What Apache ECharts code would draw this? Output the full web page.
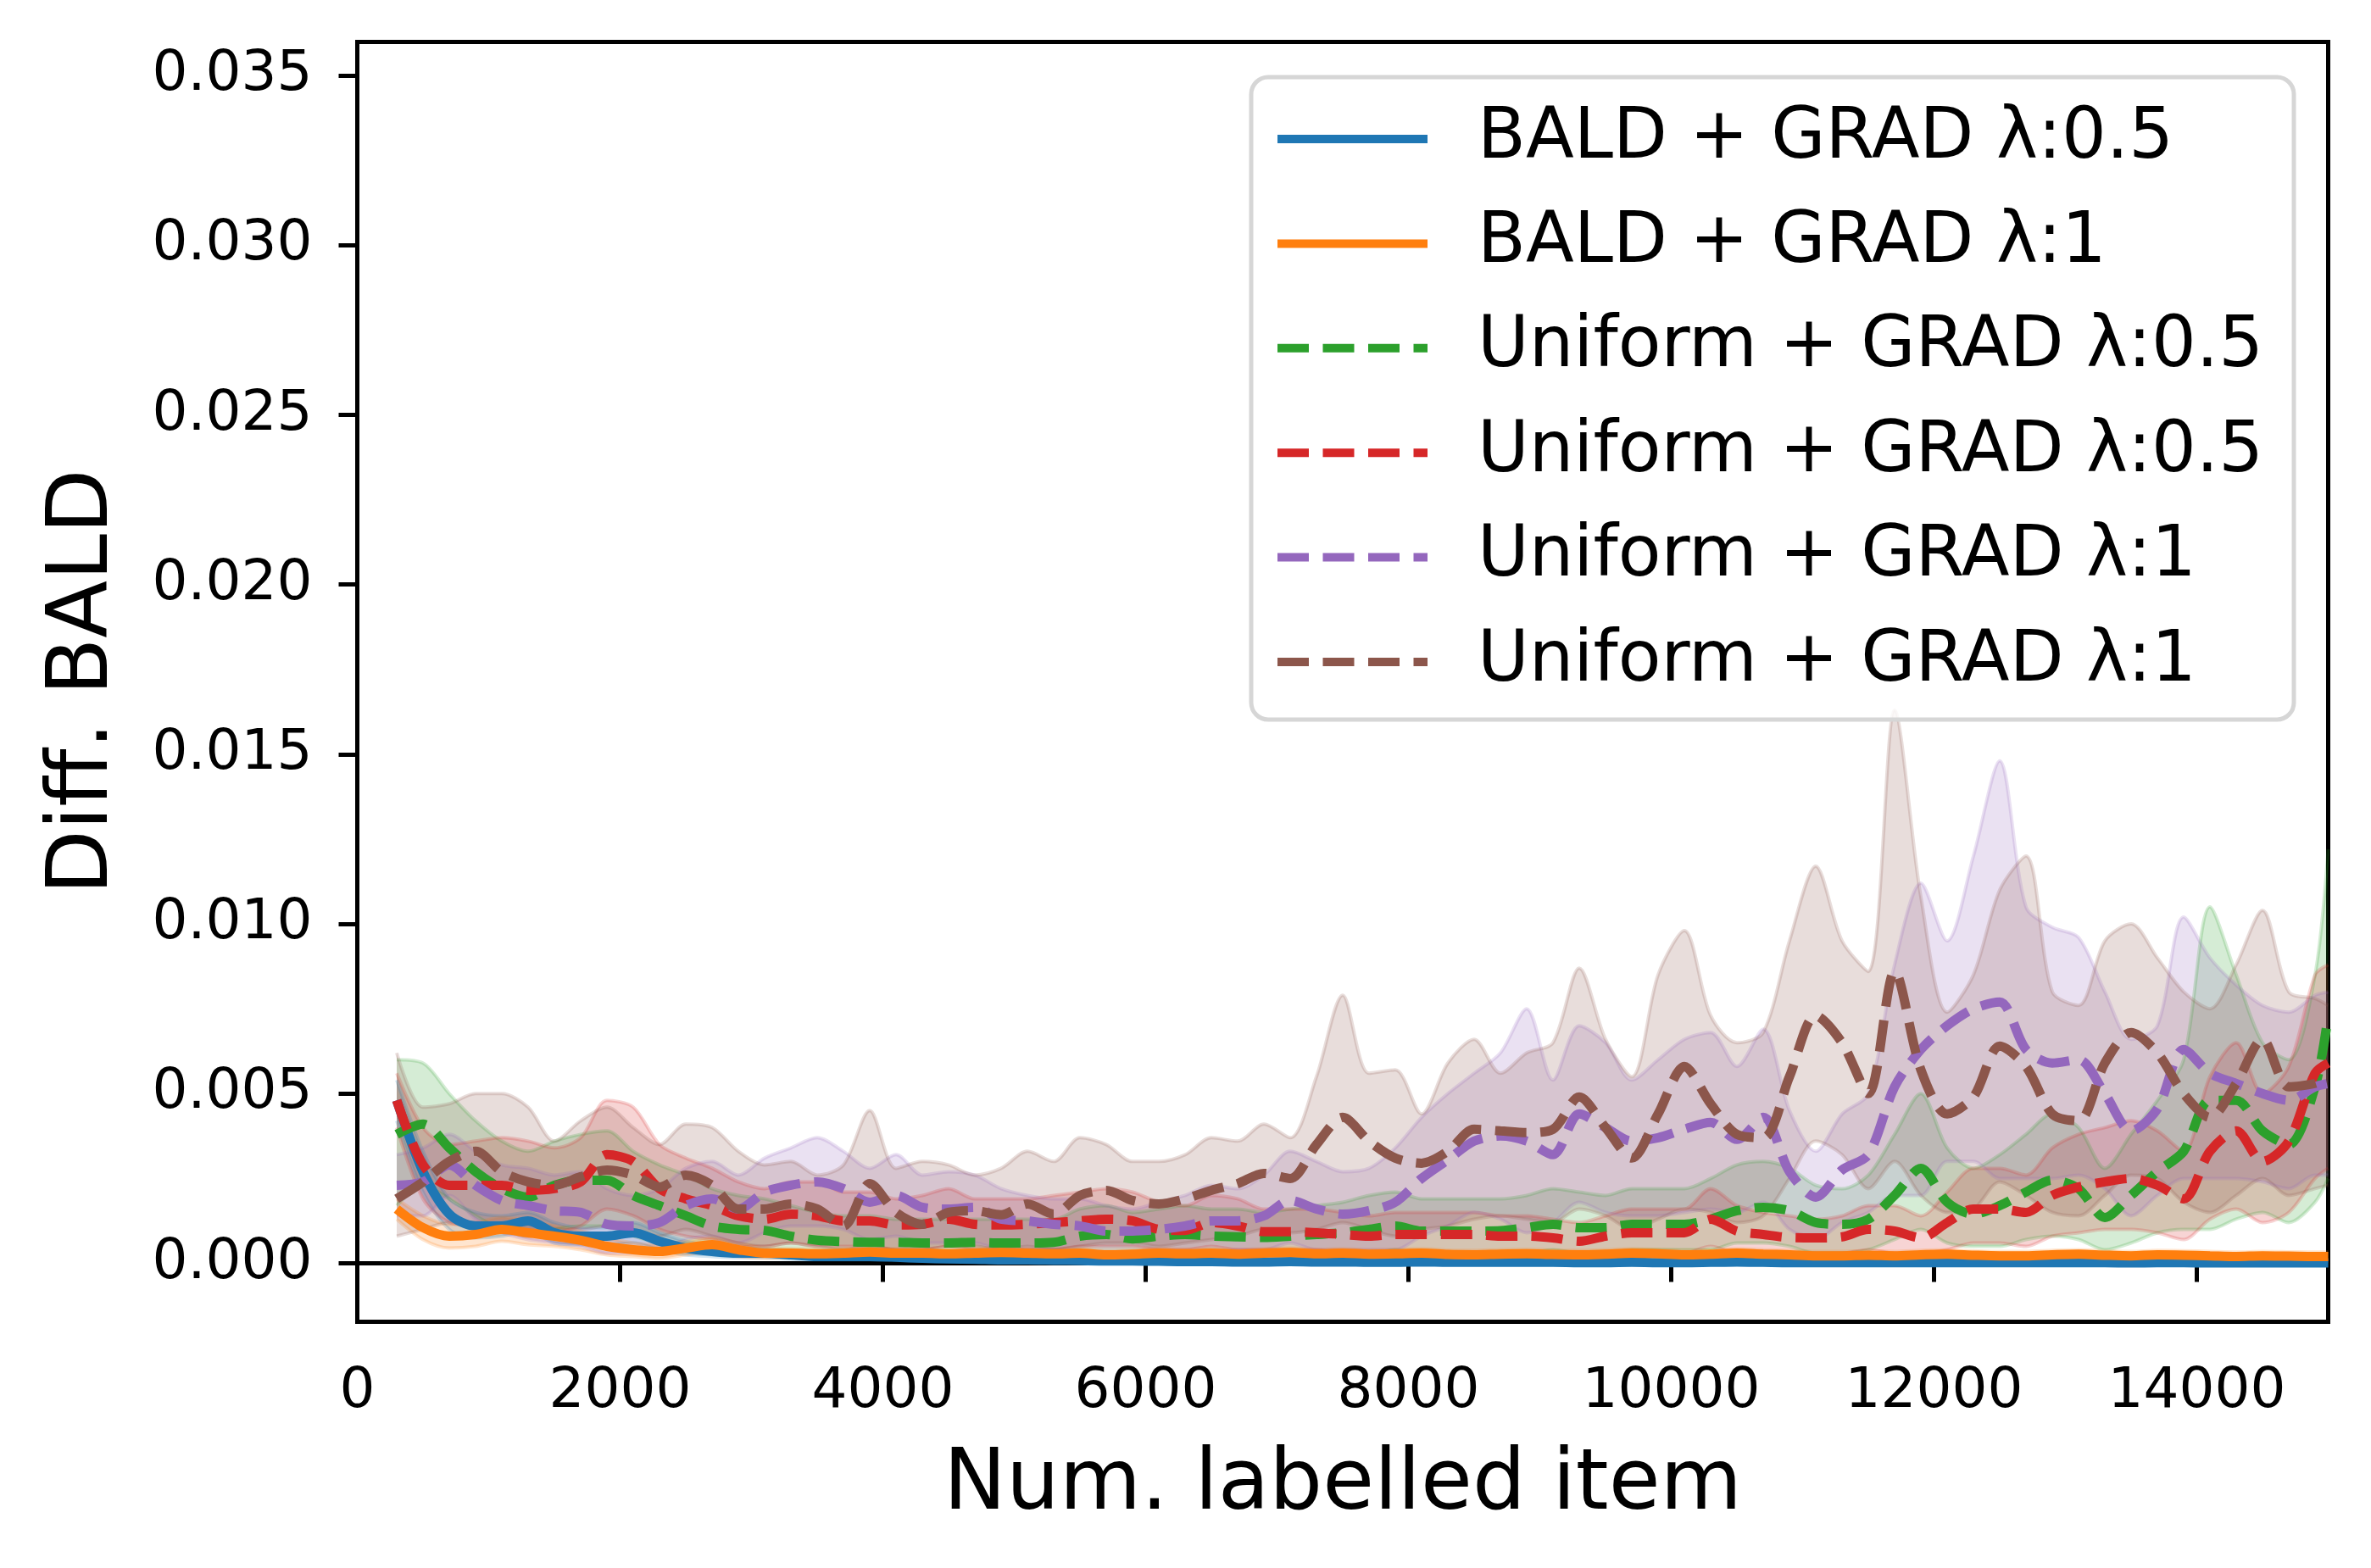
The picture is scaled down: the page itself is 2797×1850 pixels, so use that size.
<!DOCTYPE html>
<html>
<head>
<meta charset="utf-8">
<title>Diff. BALD</title>
<script src="https://cdn.jsdelivr.net/npm/echarts@6/dist/echarts.min.js"></script>
<style>
  html, body { margin: 0; padding: 0; background: #fff; }
  #chart { width: 2797px; height: 1850px; }
</style>
</head>
<body>
<div id="chart"></div>
<script>
// x: number of labelled items
const labelled = [
  300, 500, 700, 900, 1100, 1300, 1500, 1700, 1900, 2100,
  2300, 2500, 2700, 2900, 3100, 3300, 3500, 3700, 3900, 4100,
  4300, 4500, 4700, 4900, 5100, 5300, 5500, 5700, 5900, 6100,
  6300, 6500, 6700, 6900, 7100, 7300, 7500, 7700, 7900, 8100,
  8300, 8500, 8700, 8900, 9100, 9300, 9500, 9700, 9900, 10100,
  10300, 10500, 10700, 10900, 11100, 11300, 11500, 11700, 11900, 12100,
  12300, 12500, 12700, 12900, 13100, 13300, 13500, 13700, 13900, 14100,
  14300, 14500, 14700, 14900, 15000
]

const xTicks = [0, 2000, 4000, 6000, 8000, 10000, 12000, 14000]
const xTickLabels = ['0', '2000', '4000', '6000', '8000', '10000', '12000', '14000']
const yTicks = [0, 0.005, 0.01, 0.015, 0.02, 0.025, 0.03, 0.035]
const yTickLabels = ['0.000', '0.005', '0.010', '0.015', '0.020', '0.025', '0.030', '0.035']

const seriesKeys = ['bald05', 'bald1', 'uni05a', 'uni05b', 'uni1a', 'uni1b']
const seriesLabels = [
  'BALD + GRAD λ:0.5', 'BALD + GRAD λ:1',
  'Uniform + GRAD λ:0.5', 'Uniform + GRAD λ:0.5',
  'Uniform + GRAD λ:1', 'Uniform + GRAD λ:1'
]
const lineColors = ['#1f77b4', '#ff7f0e', '#2ca02c', '#d62728', '#9467bd', '#8c564b']
const dashed = [false, false, true, true, true, true]

// BALD + GRAD λ:0.5
const meanBald05 = [
  0.0048, 0.0027, 0.00145, 0.0011, 0.0011, 0.00125, 0.0009, 0.0008, 0.0008, 0.0009,
  0.00065, 0.00045, 0.00035, 0.0003, 0.0003, 0.00025, 0.0002, 0.0002, 0.0002, 0.00018,
  0.00015, 0.00013, 0.00012, 0.0001, 0.0001, 0.00009, 0.00008, 0.00007, 0.00007, 0.00006,
  0.00005, 0.00005, 0.00004, 0.00004, 0.00005, 0.00004, 0.00004, 0.00003, 0.00003, 0.00004,
  0.00003, 0.00003, 0.00003, 0.00003, 0.00003, 0.00002, 0.00002, 0.00003, 0.00002, 0.00002,
  0.00003, 0.00004, 0.00003, 0.00002, 0.00002, 0.00002, 0.00002, 0.00002, 0.00002, 0.00002,
  0.00002, 0.00002, 0.00002, 0.00002, 0.00002, 0.00002, 0.00001, 0.00002, 0.00002, 0.00001,
  0.00001, 0.00001, 0.00001, 0.00001, 0.00001
]
const hiBald05 = [
  0.0054, 0.0033, 0.0019, 0.0015, 0.0014, 0.0015, 0.0012, 0.00105, 0.00105, 0.0012,
  0.0009, 0.00065, 0.0005, 0.00045, 0.00042, 0.00038, 0.00032, 0.0003, 0.0003, 0.00028,
  0.00024, 0.00022, 0.0002, 0.00018, 0.00017, 0.00016, 0.00015, 0.00014, 0.00013, 0.00012,
  0.00011, 0.00011, 0.0001, 0.0001, 0.00011, 0.0001, 0.0001, 0.00009, 0.00009, 0.0001,
  0.00009, 0.00009, 0.00008, 0.00009, 0.00009, 0.00008, 0.00008, 0.00009, 0.00008, 0.00008,
  0.00009, 0.0001, 0.00009, 0.00008, 0.00008, 0.00008, 0.00007, 0.00008, 0.00008, 0.00007,
  0.00007, 0.00007, 0.00008, 0.00007, 0.00007, 0.00007, 0.00006, 0.00007, 0.00007, 0.00006,
  0.00006, 0.00006, 0.00006, 0.00006, 0.00006
]
const loBald05 = [
  0.0042, 0.0021, 0.001, 0.00075, 0.0008, 0.00095, 0.0006, 0.00055, 0.00055, 0.0006,
  0.0004, 0.00025, 0.0002, 0.00016, 0.00016, 0.00012, 0.0001, 0.0001, 0.0001, 0.00008,
  0.00006, 0.00005, 0.00004, 0.00003, 0.00003, 0.00003, 0.00002, 0.00002, 0.00002, 0.00002,
  0.00001, 0.00001, 0.00001, 0.00001, 0.00001, 0.00001, 0.00001, 0.00001, 0.00001, 0.00001,
  0, 0, 0, 0, 0, 0, 0, 0, 0, 0,
  0, 0, 0, 0, 0, 0, 0, 0, 0, 0,
  0, 0, 0, 0, 0, 0, 0, 0, 0, 0,
  0, 0, 0, 0, 0
]

// BALD + GRAD λ:1
const meanBald1 = [
  0.0016, 0.00105, 0.0008, 0.00085, 0.001, 0.0009, 0.0008, 0.00068, 0.0005, 0.0004,
  0.00035, 0.00045, 0.00055, 0.0004, 0.0003, 0.0003, 0.00028, 0.0003, 0.00033, 0.0003,
  0.0003, 0.00028, 0.0003, 0.00032, 0.0003, 0.00028, 0.0003, 0.00025, 0.00027, 0.0003,
  0.00028, 0.0003, 0.00027, 0.0003, 0.00032, 0.00028, 0.0003, 0.00027, 0.00028, 0.0003,
  0.00026, 0.00025, 0.00027, 0.00028, 0.00026, 0.00025, 0.00027, 0.0003, 0.00028, 0.00025,
  0.00027, 0.0003, 0.00027, 0.00025, 0.00022, 0.00022, 0.00024, 0.00022, 0.00025, 0.00027,
  0.00024, 0.00022, 0.00022, 0.00025, 0.00027, 0.00024, 0.00022, 0.00025, 0.00024, 0.00022,
  0.0002, 0.00022, 0.00021, 0.0002, 0.0002
]
const hiBald1 = [
  0.0019, 0.0014, 0.00115, 0.0012, 0.00135, 0.00125, 0.0011, 0.00095, 0.00075, 0.0006,
  0.00055, 0.00065, 0.00075, 0.0006, 0.00045, 0.00044, 0.00041, 0.00043, 0.00046, 0.00043,
  0.00043, 0.00041, 0.00043, 0.00045, 0.00043, 0.00041, 0.00043, 0.00038, 0.0004, 0.00043,
  0.00041, 0.00043, 0.0004, 0.00043, 0.00045, 0.00041, 0.00043, 0.0004, 0.00041, 0.00043,
  0.00039, 0.00038, 0.0004, 0.00041, 0.00039, 0.00038, 0.0004, 0.00043, 0.00041, 0.00038,
  0.0004, 0.00043, 0.0004, 0.00038, 0.00035, 0.00035, 0.00037, 0.00035, 0.00038, 0.0004,
  0.00037, 0.00035, 0.00035, 0.00038, 0.0004, 0.00037, 0.00035, 0.00038, 0.00037, 0.00035,
  0.00033, 0.00035, 0.00034, 0.00033, 0.00033
]
const loBald1 = [
  0.0013, 0.0007, 0.00045, 0.0005, 0.00065, 0.00055, 0.0005, 0.0004, 0.00025, 0.0002,
  0.00015, 0.00025, 0.00035, 0.0002, 0.00015, 0.00017, 0.00016, 0.00018, 0.00021, 0.00018,
  0.00018, 0.00016, 0.00018, 0.0002, 0.00018, 0.00016, 0.00018, 0.00013, 0.00015, 0.00018,
  0.00016, 0.00018, 0.00015, 0.00018, 0.0002, 0.00016, 0.00018, 0.00015, 0.00016, 0.00018,
  0.00014, 0.00013, 0.00015, 0.00016, 0.00014, 0.00013, 0.00015, 0.00018, 0.00016, 0.00013,
  0.00015, 0.00018, 0.00015, 0.00013, 0.0001, 0.0001, 0.00012, 0.0001, 0.00013, 0.00015,
  0.00012, 0.0001, 0.0001, 0.00013, 0.00015, 0.00012, 0.0001, 0.00013, 0.00012, 0.0001,
  0.00008, 0.0001, 0.00009, 0.00008, 0.00008
]

// Uniform + GRAD λ:0.5 (green)
const meanUni05a = [
  0.0038, 0.0041, 0.0034, 0.0027, 0.0022, 0.00195, 0.0023, 0.00245, 0.00245, 0.002,
  0.0017, 0.0014, 0.0011, 0.001, 0.00097, 0.0008, 0.00068, 0.00064, 0.00062, 0.00062,
  0.0006, 0.0006, 0.00062, 0.0006, 0.0006, 0.00062, 0.0008, 0.00085, 0.00072, 0.0008,
  0.00085, 0.0008, 0.00078, 0.00076, 0.0008, 0.00085, 0.0009, 0.001, 0.0011, 0.00095,
  0.00095, 0.00095, 0.00096, 0.00105, 0.00115, 0.00105, 0.00105, 0.00115, 0.00115, 0.00115,
  0.0013, 0.00155, 0.00165, 0.00155, 0.0012, 0.00115, 0.0013, 0.002, 0.0028, 0.0018,
  0.00145, 0.0017, 0.0021, 0.00245, 0.0022, 0.00135, 0.002, 0.0027, 0.0033, 0.0048,
  0.0048, 0.0039, 0.0035, 0.0052, 0.0073
]
const hiUni05a = [
  0.006, 0.0059, 0.005, 0.0042, 0.0036, 0.0033, 0.0036, 0.0038, 0.0039, 0.0033,
  0.0029, 0.0026, 0.0022, 0.002, 0.0019, 0.0017, 0.0015, 0.0014, 0.0014, 0.0013,
  0.0013, 0.0013, 0.0013, 0.0013, 0.0013, 0.0013, 0.0016, 0.0017, 0.0015, 0.0016,
  0.0017, 0.0016, 0.0016, 0.0015, 0.0016, 0.0017, 0.0018, 0.002, 0.0021, 0.0019,
  0.0019, 0.0019, 0.0019, 0.002, 0.0022, 0.0021, 0.002, 0.0022, 0.0022, 0.0022,
  0.0025, 0.0029, 0.003, 0.0028, 0.0023, 0.0022, 0.0026, 0.0038, 0.005, 0.0034,
  0.0028, 0.0032, 0.0038, 0.0044, 0.004, 0.0028, 0.0038, 0.0048, 0.006, 0.0105,
  0.0085, 0.0065, 0.006, 0.0085, 0.0122
]
const loUni05a = [
  0.0017, 0.0023, 0.0019, 0.0014, 0.001, 0.0008, 0.001, 0.0011, 0.0011, 0.0008,
  0.0006, 0.0005, 0.0003, 0.0003, 0.0003, 0.0002, 0.0002, 0.0002, 0.0002, 0.0002,
  0.0002, 0.0002, 0.0002, 0.0002, 0.0002, 0.0002, 0.0003, 0.0003, 0.0002, 0.0003,
  0.0003, 0.0003, 0.0003, 0.0003, 0.0003, 0.0003, 0.0003, 0.0003, 0.0004, 0.0003,
  0.0003, 0.0003, 0.0003, 0.0003, 0.0004, 0.0003, 0.0003, 0.0004, 0.0004, 0.0004,
  0.0004, 0.0006, 0.0006, 0.0005, 0.0003, 0.0003, 0.0004, 0.0007, 0.001, 0.0006,
  0.0005, 0.0005, 0.0007, 0.0008, 0.0007, 0.0004, 0.0006, 0.0009, 0.001, 0.001,
  0.0013, 0.0015, 0.0012, 0.0018, 0.0025
]

// Uniform + GRAD λ:0.5 (red)
const meanUni05b = [
  0.0048, 0.0029, 0.0023, 0.0023, 0.0023, 0.00215, 0.0022, 0.0024, 0.0032, 0.003,
  0.0022, 0.0019, 0.0017, 0.0014, 0.0013, 0.00145, 0.0014, 0.00125, 0.00125, 0.00113,
  0.00115, 0.0013, 0.00115, 0.00113, 0.00115, 0.0012, 0.00125, 0.0013, 0.00125, 0.001,
  0.00097, 0.0012, 0.0011, 0.00093, 0.00093, 0.0009, 0.00085, 0.0008, 0.00085, 0.00085,
  0.00085, 0.00085, 0.0008, 0.0008, 0.00075, 0.00065, 0.0008, 0.0009, 0.0009, 0.0009,
  0.0013, 0.00095, 0.00085, 0.00076, 0.00075, 0.00078, 0.001, 0.00095, 0.00075, 0.0012,
  0.0016, 0.0016, 0.0015, 0.002, 0.00225, 0.0024, 0.0025, 0.0023, 0.0019, 0.0033,
  0.0039, 0.003, 0.0036, 0.0056, 0.0059
]
const hiUni05b = [
  0.0056, 0.004, 0.0035, 0.0036, 0.0037, 0.0036, 0.0034, 0.0037, 0.0048, 0.0046,
  0.0035, 0.0031, 0.0028, 0.0024, 0.0022, 0.0024, 0.0024, 0.0021, 0.0021, 0.0019,
  0.002, 0.0022, 0.0019, 0.0019, 0.0019, 0.002, 0.0021, 0.0022, 0.0021, 0.0018,
  0.0017, 0.002, 0.0019, 0.0016, 0.0016, 0.0016, 0.0015, 0.0014, 0.0015, 0.0015,
  0.0015, 0.0015, 0.0014, 0.0014, 0.0013, 0.0012, 0.0014, 0.0016, 0.0016, 0.0016,
  0.0022, 0.0017, 0.0015, 0.0014, 0.0013, 0.0014, 0.0017, 0.0017, 0.0014, 0.0021,
  0.0028, 0.0028, 0.0026, 0.0034, 0.0038, 0.004, 0.0042, 0.0039, 0.0033, 0.0055,
  0.0065, 0.005, 0.0058, 0.0085, 0.0088
]
const loUni05b = [
  0.004, 0.0019, 0.0012, 0.0011, 0.001, 0.0008, 0.0009, 0.0011, 0.0016, 0.0014,
  0.001, 0.0008, 0.0007, 0.0005, 0.0005, 0.0006, 0.0005, 0.0005, 0.0005, 0.0004,
  0.0004, 0.0005, 0.0004, 0.0004, 0.0004, 0.0004, 0.0005, 0.0005, 0.0005, 0.0004,
  0.0004, 0.0005, 0.0004, 0.0004, 0.0004, 0.0004, 0.0003, 0.0003, 0.0003, 0.0003,
  0.0003, 0.0003, 0.0003, 0.0003, 0.0003, 0.0002, 0.0003, 0.0003, 0.0003, 0.0003,
  0.0005, 0.0003, 0.0003, 0.0003, 0.0003, 0.0003, 0.0004, 0.0003, 0.0003, 0.0004,
  0.0006, 0.0006, 0.0005, 0.0008, 0.0009, 0.001, 0.001, 0.0009, 0.0007, 0.0013,
  0.0016, 0.0012, 0.0015, 0.0025, 0.0028
]

// Uniform + GRAD λ:1 (purple)
const meanUni1a = [
  0.0023, 0.0024, 0.0029, 0.0023, 0.00185, 0.0017, 0.00155, 0.0015, 0.00115, 0.0011,
  0.0012, 0.0017, 0.0019, 0.0016, 0.0021, 0.0023, 0.0024, 0.0022, 0.0018, 0.002,
  0.00165, 0.0016, 0.00165, 0.0013, 0.00125, 0.00115, 0.0011, 0.00095, 0.00095, 0.001,
  0.0011, 0.00125, 0.00125, 0.0014, 0.00185, 0.0016, 0.00145, 0.00155, 0.0018, 0.0025,
  0.00305, 0.0036, 0.00375, 0.0036, 0.0032, 0.0044, 0.004, 0.0036, 0.0037, 0.00395,
  0.00415, 0.00365, 0.0043, 0.0027, 0.00195, 0.00275, 0.0032, 0.0052, 0.0063, 0.007,
  0.0075, 0.0077, 0.0063, 0.0059, 0.006, 0.005, 0.0039, 0.00455, 0.0063, 0.0056,
  0.0053, 0.005, 0.0048, 0.0052, 0.0053
]
const hiUni1a = [
  0.0032, 0.0034, 0.0038, 0.0033, 0.0029, 0.0028, 0.0026, 0.0027, 0.0022, 0.002,
  0.0022, 0.0028, 0.003, 0.0026, 0.0031, 0.0034, 0.0037, 0.0033, 0.0028, 0.0032,
  0.0026, 0.0027, 0.0026, 0.0022, 0.002, 0.0019, 0.0019, 0.0017, 0.0016, 0.0018,
  0.002, 0.0023, 0.0022, 0.0026, 0.0033, 0.003, 0.0027, 0.0028, 0.0034, 0.0043,
  0.005, 0.0056, 0.0062, 0.0075, 0.0054, 0.007, 0.0065, 0.0054, 0.006, 0.0066,
  0.0068, 0.0058, 0.0069, 0.0045, 0.0033, 0.0044, 0.005, 0.0088, 0.0112, 0.0095,
  0.012, 0.0148, 0.0105, 0.0099, 0.0096, 0.008, 0.0066, 0.007, 0.0102, 0.009,
  0.0082, 0.0076, 0.0074, 0.0079, 0.008
]
const loUni1a = [
  0.0014, 0.0014, 0.002, 0.0013, 0.0009, 0.0007, 0.0006, 0.0005, 0.0003, 0.0003,
  0.0004, 0.0007, 0.0008, 0.0006, 0.0009, 0.0011, 0.0011, 0.001, 0.0007, 0.0008,
  0.0006, 0.0006, 0.0006, 0.0004, 0.0004, 0.0004, 0.0003, 0.0002, 0.0003, 0.0003,
  0.0003, 0.0003, 0.0004, 0.0004, 0.0006, 0.0004, 0.0004, 0.0004, 0.0004, 0.0008,
  0.0011, 0.0015, 0.0013, 0.0009, 0.0012, 0.0018, 0.0015, 0.0014, 0.0014, 0.0015,
  0.0016, 0.0015, 0.0018, 0.001, 0.0007, 0.0012, 0.0015, 0.002, 0.002, 0.003,
  0.003, 0.0025, 0.0025, 0.0025, 0.0026, 0.0022, 0.0014, 0.002, 0.0025, 0.0025,
  0.0025, 0.0024, 0.0022, 0.0026, 0.0026
]

// Uniform + GRAD λ:1 (brown)
const meanUni1b = [
  0.0019, 0.0024, 0.003, 0.0033, 0.0027, 0.0024, 0.0023, 0.00255, 0.00275, 0.0026,
  0.00225, 0.0026, 0.0023, 0.0016, 0.0016, 0.00175, 0.0016, 0.0011, 0.00235, 0.0015,
  0.00115, 0.0015, 0.00155, 0.00143, 0.00175, 0.00145, 0.002, 0.00215, 0.00185, 0.00175,
  0.0019, 0.00215, 0.00235, 0.00265, 0.0025, 0.0035, 0.0043, 0.0036, 0.0031, 0.00295,
  0.0033, 0.00395, 0.0039, 0.00385, 0.00395, 0.0049, 0.004, 0.0031, 0.0044, 0.0058,
  0.0047, 0.0038, 0.0037, 0.0055, 0.0073, 0.0065, 0.005, 0.0086, 0.0057, 0.0044,
  0.0049, 0.0064, 0.0058, 0.0044, 0.0042, 0.0059, 0.0068, 0.0062, 0.005, 0.0043,
  0.0053, 0.0066, 0.0052, 0.0053, 0.0055
]
const hiUni1b = [
  0.0062, 0.0046, 0.0047, 0.005, 0.005, 0.0046, 0.0036, 0.0042, 0.0046, 0.004,
  0.0035, 0.0041, 0.004, 0.0033, 0.0029, 0.003, 0.0026, 0.0029, 0.0045, 0.0028,
  0.003, 0.0029, 0.0026, 0.0028, 0.0033, 0.003, 0.0037, 0.0035, 0.003, 0.003,
  0.0032, 0.0037, 0.0036, 0.0041, 0.0037, 0.0055, 0.0079, 0.0056, 0.0057, 0.0044,
  0.0059, 0.0066, 0.0056, 0.0062, 0.0065, 0.0087, 0.0066, 0.0055, 0.0085, 0.0098,
  0.0073, 0.0065, 0.0068, 0.0095, 0.0117, 0.0095, 0.0086, 0.0163, 0.0108, 0.0074,
  0.0085, 0.011, 0.012, 0.008, 0.0076, 0.0095, 0.01, 0.009, 0.008, 0.0075,
  0.0088, 0.0104, 0.008, 0.0078, 0.0076
]
const loUni1b = [
  0.0008, 0.001, 0.0012, 0.0012, 0.001, 0.0009, 0.001, 0.001, 0.0011, 0.001,
  0.0008, 0.001, 0.0008, 0.0006, 0.0005, 0.0006, 0.0005, 0.0004, 0.0005, 0.0004,
  0.0004, 0.0005, 0.0005, 0.0004, 0.0005, 0.0004, 0.0005, 0.0006, 0.0006, 0.0005,
  0.0006, 0.0007, 0.0008, 0.001, 0.0009, 0.001, 0.0012, 0.001, 0.0008, 0.001,
  0.0011, 0.0013, 0.0014, 0.0013, 0.0012, 0.0016, 0.0014, 0.001, 0.0013, 0.0016,
  0.0015, 0.0012, 0.0014, 0.0025, 0.0036, 0.0032, 0.0022, 0.003, 0.002, 0.0015,
  0.0016, 0.0024, 0.002, 0.0015, 0.0014, 0.002, 0.0026, 0.0025, 0.0018, 0.0015,
  0.002, 0.0025, 0.002, 0.0022, 0.0023
]

const means = [meanBald05, meanBald1, meanUni05a, meanUni05b, meanUni1a, meanUni1b]
const highs = [hiBald05, hiBald1, hiUni05a, hiUni05b, hiUni1a, hiUni1b]
const lows = [loBald05, loBald1, loUni05a, loUni05b, loUni1a, loUni1b]

const FONT = 'DejaVu Sans'
const SMOOTH = 0.3
const LINE_W = 11

const toPairs = ys => labelled.map((x, i) => [x, ys[i]])

const series = []
// shaded bands first, lines on top.
// band rows are [value, x] with encode so the stack runs on the y dimension
means.forEach((m, k) => {
  const color = lineColors[k]
  series.push({
    type: 'line', name: 'lo-' + k, stack: 'band' + k,
    data: labelled.map((x, i) => [lows[k][i], x]),
    encode: {x: 1, y: 0},
    symbol: 'none', smooth: SMOOTH, silent: true, z: 1,
    lineStyle: {color, opacity: 0.2, width: 4}
  })
  series.push({
    type: 'line', name: 'hi-' + k, stack: 'band' + k,
    data: labelled.map((x, i) => [highs[k][i] - lows[k][i], x]),
    encode: {x: 1, y: 0},
    symbol: 'none', smooth: SMOOTH, silent: true, z: 1,
    lineStyle: {color, opacity: 0.2, width: 4},
    areaStyle: {color, opacity: 0.2}
  })
})
means.forEach((m, k) => {
  series.push({
    type: 'line', name: seriesKeys[k],
    data: toPairs(m),
    symbol: 'none', smooth: SMOOTH, silent: true, z: 3,
    itemStyle: {color: lineColors[k]},
    lineStyle: {
      color: lineColors[k], width: LINE_W,
      type: dashed[k] ? [37, 16.5] : 'solid', cap: 'butt'
    }
  })
})

const chart = echarts.init(document.getElementById('chart'), null, {renderer: 'canvas'})
chart.setOption({
  animation: false,
  backgroundColor: '#ffffff',
  grid: {
    left: 421.5, right: 50.5, top: 49.5, bottom: 290.5,
    show: true, borderColor: '#000', borderWidth: 5,
    outerBoundsMode: 'none'
  },
  legend: {
    data: seriesKeys,
    formatter: name => seriesLabels[seriesKeys.indexOf(name)],
    orient: 'vertical',
    left: 1476, top: 91,
    itemWidth: 177, itemHeight: 30, itemGap: 23.4,
    padding: [23, 36, 18, 26],
    backgroundColor: 'rgba(255,255,255,0.8)',
    borderColor: '#d6d6d6', borderWidth: 5, borderRadius: 20,
    itemStyle: {opacity: 0},
    lineStyle: {width: 10},
    selectedMode: false,
    textStyle: {fontFamily: FONT, fontSize: 83, color: '#000', lineHeight: 100, padding: [0, 0, 0, 54]}
  },
  xAxis: {
    type: 'value', min: 0, max: 15000,
    name: 'Num. labelled item', nameLocation: 'middle', nameGap: 145,
    nameTextStyle: {fontFamily: FONT, fontSize: 99, color: '#000'},
    axisLine: {show: true, lineStyle: {color: '#000', width: 5}},
    axisTick: {show: true, length: 22, lineStyle: {color: '#000', width: 5}, customValues: xTicks},
    axisLabel: {
      customValues: xTicks, margin: 50,
      fontFamily: FONT, fontSize: 66, color: '#000',
      formatter: v => xTickLabels[xTicks.indexOf(v)]
    },
    splitLine: {show: false}
  },
  yAxis: {
    type: 'value', min: -0.001723, max: 0.035986,
    name: 'Diff. BALD', nameLocation: 'middle', nameGap: 272, nameRotate: 90,
    nameTextStyle: {fontFamily: FONT, fontSize: 99, color: '#000'},
    axisLine: {show: true, lineStyle: {color: '#000', width: 5}},
    axisTick: {show: true, length: 22, lineStyle: {color: '#000', width: 5}, customValues: yTicks},
    axisLabel: {
      customValues: yTicks, margin: 53,
      fontFamily: FONT, fontSize: 66, color: '#000',
      formatter: v => yTickLabels[yTicks.findIndex(t => Math.abs(t - v) < 1e-9)]
    },
    splitLine: {show: false}
  },
  series
})
</script>
</body>
</html>
